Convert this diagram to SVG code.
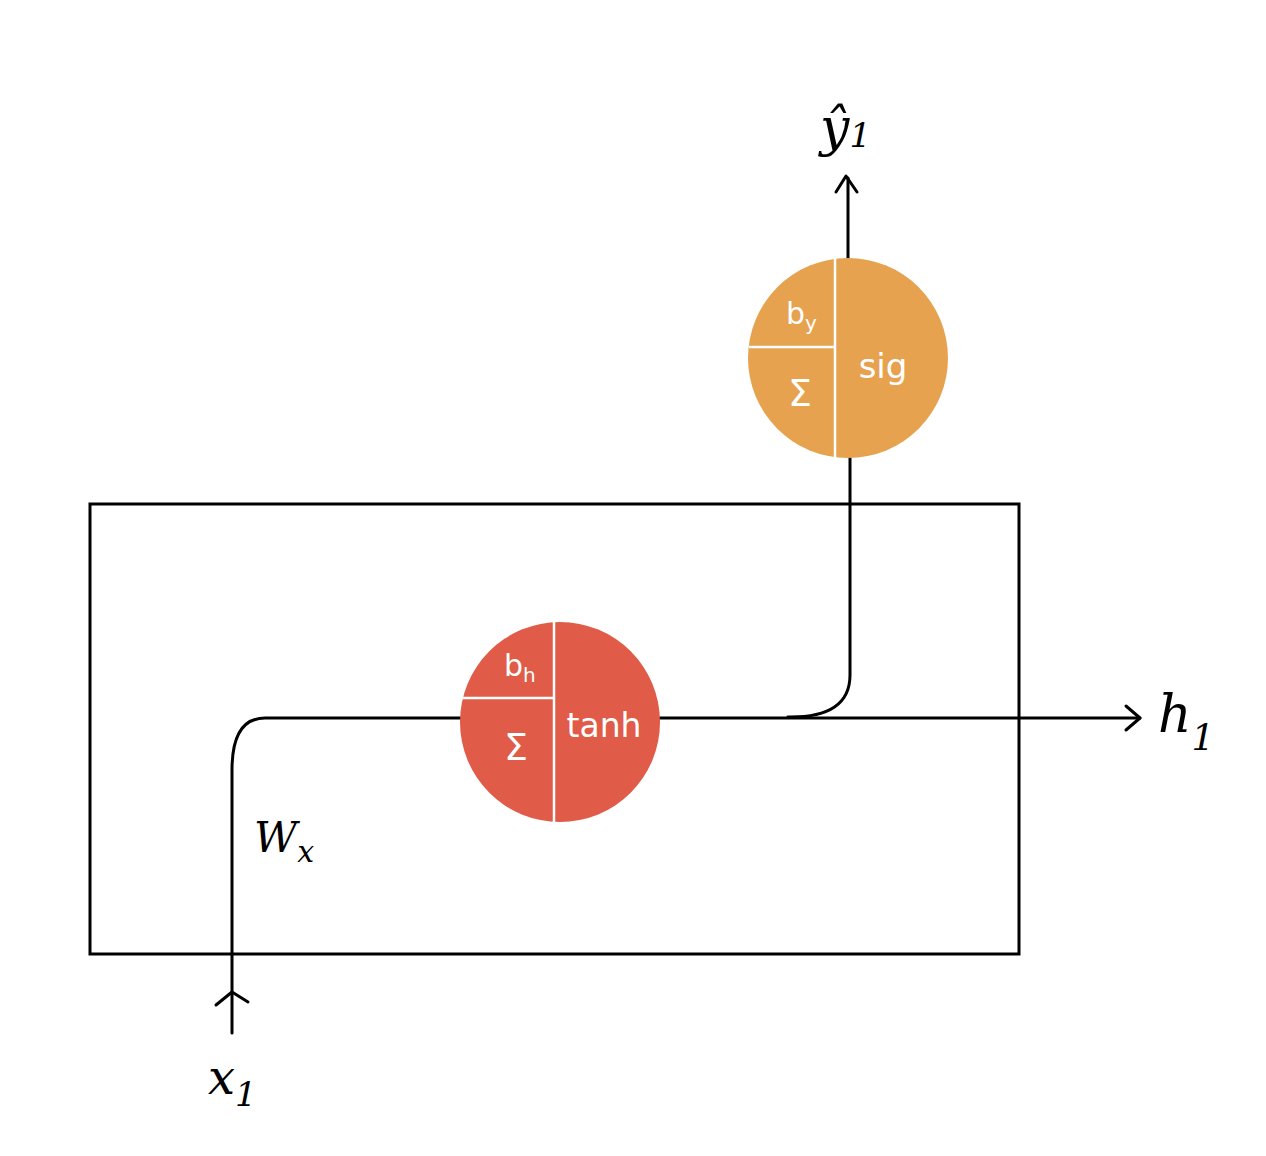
<svg xmlns="http://www.w3.org/2000/svg" width="1266" height="1156" viewBox="0 0 1266 1156">
<defs>
<style>
.ln{fill:none;stroke:#000;stroke-width:3;stroke-linecap:round;stroke-linejoin:round}
.div{stroke:#fff;stroke-width:2.5;fill:none}
.wt{fill:#fff;font-family:"DejaVu Sans",sans-serif}
.bk{fill:#000;font-family:"DejaVu Serif",serif;font-style:italic}
</style>
</defs>
<rect x="90" y="504" width="929" height="450" fill="none" stroke="#000" stroke-width="3"/>
<g id="connectors">
<path class="ln" d="M232 1033 V770 Q232 718 265 718 H462"/>
<path class="ln" d="M216 1005 L232 992 L248 1002"/>
<path class="ln" d="M658 718 H1140"/>
<path class="ln" d="M1126 706 L1140 718 L1126 730"/>
<path class="ln" d="M788 717 Q850 718 850 675 V456"/>
<path class="ln" d="M848 260 V178"/>
<path class="ln" d="M836 192 L846 176 L857 192"/>
</g>
<g id="node-output">
<circle cx="848" cy="358" r="100" fill="#E6A24E"/>
<line class="div" x1="835" y1="258" x2="835" y2="458"/>
<line class="div" x1="749" y1="347" x2="835" y2="347"/>
<text class="wt" x="786" y="324" font-size="30">b<tspan font-size="20" dy="6">y</tspan></text>
<text class="wt" x="800" y="406" font-size="38" text-anchor="middle">Σ</text>
<text class="wt" x="883" y="378" font-size="34" text-anchor="middle">sig</text>
</g>
<g id="node-hidden">
<circle cx="560" cy="722" r="100" fill="#E05B48"/>
<line class="div" x1="554" y1="622" x2="554" y2="822"/>
<line class="div" x1="461" y1="698" x2="554" y2="698"/>
<text class="wt" x="504" y="676" font-size="30">b<tspan font-size="20" dy="6">h</tspan></text>
<text class="wt" x="516" y="760" font-size="38" text-anchor="middle">Σ</text>
<text class="wt" x="604" y="737" font-size="33" text-anchor="middle">tanh</text>
</g>
<g id="labels">
<text class="bk" x="820" y="145" font-size="52">ŷ<tspan font-size="34" dy="2">1</tspan></text>
<text class="bk" x="1158" y="732" font-size="52">h<tspan font-size="36" dy="18">1</tspan></text>
<text class="bk" x="208" y="1094" font-size="48">x<tspan font-size="34" dy="12">1</tspan></text>
<text class="bk" x="254" y="852" font-size="42">W<tspan font-size="30" dy="10">x</tspan></text>
</g>
</svg>
